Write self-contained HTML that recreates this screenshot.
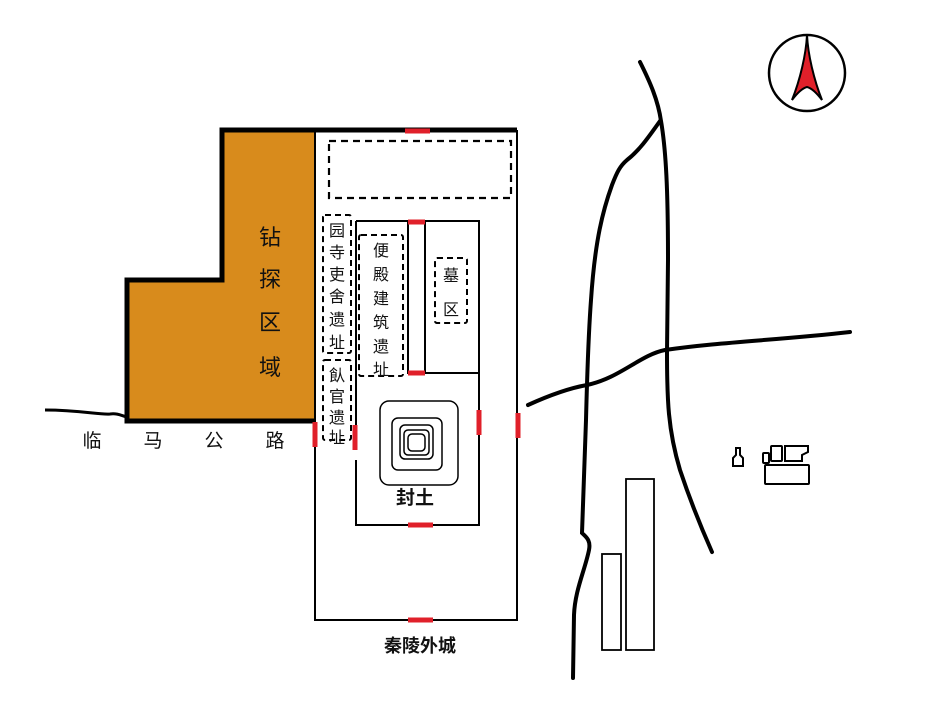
<!DOCTYPE html>
<html><head><meta charset="utf-8"><style>
html,body{margin:0;padding:0;background:#fff;}
svg{display:block;}
text{font-family:"Liberation Sans","Noto Sans CJK SC",sans-serif;fill:#111;}
</style></head><body>
<svg width="945" height="702" viewBox="0 0 945 702" xmlns="http://www.w3.org/2000/svg">
<polygon points="222,130 315,130 315,421 127,421 127,280 222,280" fill="#D88B1C"/>
<polyline points="315,421 127,421 127,280 222,280 222,130 517,130" fill="none" stroke="#000" stroke-width="5" stroke-linejoin="miter"/>
<path d="M45,410 C80,410 100,415 110,414 C118,413 122,416 127,417" fill="none" stroke="#000" stroke-width="3"/>
<g font-size="22">
<text x="270" y="245" text-anchor="middle">钻</text>
<text x="270" y="287" text-anchor="middle">探</text>
<text x="270" y="330" text-anchor="middle">区</text>
<text x="270" y="375" text-anchor="middle">域</text>
</g>
<g font-size="19">
<text x="92" y="447" text-anchor="middle">临</text>
<text x="153" y="447" text-anchor="middle">马</text>
<text x="214" y="447" text-anchor="middle">公</text>
<text x="275" y="447" text-anchor="middle">路</text>
</g>
<path d="M315,130 V620 H517 V130" fill="none" stroke="#000" stroke-width="2"/>
<rect x="329" y="141" width="182" height="57" fill="none" stroke="#000" stroke-width="2.2" stroke-dasharray="7,5"/>
<path d="M356,221 V450 M356,460 V525 H479 V221 H356" fill="none" stroke="#000" stroke-width="2"/>
<path d="M408,221 V373 H425 V221 M425,373 H479" fill="none" stroke="#000" stroke-width="2"/>
<rect x="323" y="215" width="28" height="138" rx="2" fill="none" stroke="#000" stroke-width="2" stroke-dasharray="6,4"/>
<rect x="323" y="360" width="28" height="80" rx="2" fill="none" stroke="#000" stroke-width="2" stroke-dasharray="6,4"/>
<rect x="359" y="235" width="44" height="141" rx="2" fill="none" stroke="#000" stroke-width="2" stroke-dasharray="6,4"/>
<rect x="435" y="258" width="32" height="65" rx="2" fill="none" stroke="#000" stroke-width="2" stroke-dasharray="6,4"/>
<g font-size="16">
<text x="337" y="236" text-anchor="middle">园</text>
<text x="337" y="258" text-anchor="middle">寺</text>
<text x="337" y="280" text-anchor="middle">吏</text>
<text x="337" y="302" text-anchor="middle">舍</text>
<text x="337" y="325" text-anchor="middle">遗</text>
<text x="337" y="348" text-anchor="middle">址</text>
<text x="337" y="381" text-anchor="middle">飤</text>
<text x="337" y="402" text-anchor="middle">官</text>
<text x="337" y="423" text-anchor="middle">遗</text>
<text x="337" y="443" text-anchor="middle">址</text>
<text x="381" y="256" text-anchor="middle">便</text>
<text x="381" y="280" text-anchor="middle">殿</text>
<text x="381" y="304" text-anchor="middle">建</text>
<text x="381" y="328" text-anchor="middle">筑</text>
<text x="381" y="352" text-anchor="middle">遗</text>
<text x="381" y="375" text-anchor="middle">址</text>
<text x="451" y="281" text-anchor="middle">墓</text>
<text x="451" y="315" text-anchor="middle">区</text>
</g>
<g fill="none" stroke="#000" stroke-width="1.5">
<rect x="380" y="401" width="78" height="84" rx="9"/>
<rect x="392" y="418" width="50" height="52" rx="6"/>
<rect x="400" y="425" width="33" height="34" rx="5"/>
<rect x="404" y="430" width="25" height="25" rx="4"/>
<rect x="408" y="434" width="17" height="17" rx="4"/>
</g>
<text x="415" y="504" font-size="19" font-weight="bold" text-anchor="middle">封土</text>
<text x="420" y="652" font-size="18" font-weight="bold" text-anchor="middle">秦陵外城</text>
<g stroke="#E0202A" stroke-width="5">
<line x1="405" y1="131" x2="430" y2="131"/>
<line x1="408" y1="620" x2="433" y2="620"/>
<line x1="408" y1="525" x2="433" y2="525"/>
<line x1="408" y1="222" x2="425" y2="222"/>
<line x1="408" y1="373" x2="425" y2="373"/>
<line x1="315" y1="422" x2="315" y2="447"/>
<line x1="355" y1="425" x2="355" y2="450"/>
<line x1="479" y1="410" x2="479" y2="435"/>
<line x1="518" y1="413" x2="518" y2="438"/>
</g>
<g fill="none" stroke="#000" stroke-width="4" stroke-linecap="round">
<path d="M640,62 C650,82 658,100 661,121 C666,150 668,190 668,260 L667,352 C667,400 668,430 680,470 C690,500 700,525 712,552"/>
<path d="M660,121 C650,135 640,150 627,160 C620,166 617,172 612,185 C603,210 595,240 591,300 C588,340 587,380 586,420 L582,533 C586,537 591,540 589,550 C585,570 575,590 574,615 L573,678"/>
<path d="M528,405 C550,395 570,388 587,385 C620,378 640,355 665,350 C720,342 780,340 850,332"/>
</g>
<rect x="626" y="479" width="28" height="171" fill="none" stroke="#000" stroke-width="1.8"/>
<rect x="602" y="554" width="19" height="96" fill="none" stroke="#000" stroke-width="1.8"/>
<g fill="none" stroke="#000" stroke-width="2">
<path d="M733,466 V458 L736,455 V448 H740 V455 L743,458 V466 Z"/>
<rect x="763" y="453" width="6" height="10" rx="1"/>
<rect x="771" y="446" width="11" height="15" rx="1"/>
<path d="M785,446 H808 V452 L802,455 V461 H785 Z"/>
<rect x="765" y="465" width="44" height="19" rx="1"/>
<line x1="769" y1="458" x2="771" y2="458"/>
</g>
<circle cx="807" cy="73" r="38" fill="#fff" stroke="#000" stroke-width="2.5"/>
<path d="M807,35 C806,55 800,80 792,100 C798,92 803,88 807,87 C811,88 816,92 822,100 C814,80 808,55 807,35 Z" fill="#E0202A" stroke="#000" stroke-width="2"/>
</svg>
</body></html>
